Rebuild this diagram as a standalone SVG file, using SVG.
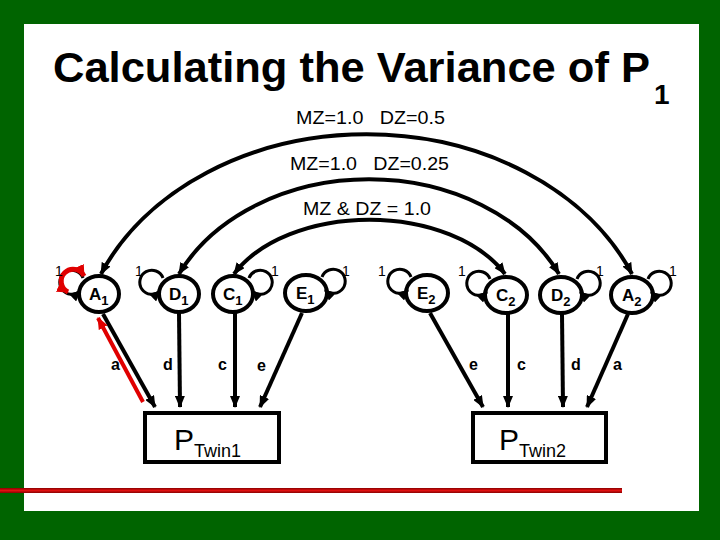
<svg xmlns="http://www.w3.org/2000/svg" width="720" height="540" viewBox="0 0 720 540">
<defs>
<marker id="ah" markerUnits="userSpaceOnUse" markerWidth="12" markerHeight="10" refX="11" refY="5" orient="auto-start-reverse"><path d="M0,0 L12,5 L0,10 z" fill="#000"/></marker>
<marker id="ahs" markerUnits="userSpaceOnUse" markerWidth="11" markerHeight="10" refX="10" refY="5" orient="auto"><path d="M0,0 L11,5 L0,10 z" fill="#000"/></marker>
<marker id="ahr" markerUnits="userSpaceOnUse" markerWidth="12" markerHeight="10" refX="11" refY="5" orient="auto-start-reverse"><path d="M0,0 L12,5 L0,10 z" fill="#e00000"/></marker>
<linearGradient id="rg" x1="0" y1="0" x2="0" y2="1"><stop offset="0" stop-color="#8a0000"/><stop offset="0.5" stop-color="#e01010"/><stop offset="1" stop-color="#8a0000"/></linearGradient>
<style>
.t{font-family:"Liberation Sans",Arial,sans-serif;fill:#000}
.title{font-size:43px;font-weight:bold}
.lbl{font-size:18px}
.one{font-size:14px}
.nl{font-size:17px;font-weight:bold}
.sub{font-size:13px;font-weight:bold}
.pl{font-size:16px;font-weight:bold}
.node{fill:#fff;stroke:#000;stroke-width:4}
.box{fill:#fff;stroke:#000;stroke-width:4}
.arc{fill:none;stroke:#000;stroke-width:4;marker-start:url(#ah);marker-end:url(#ah)}
.ln{fill:none;stroke:#000;stroke-width:4;marker-end:url(#ah)}
.loop{fill:none;stroke:#000;stroke-width:3;marker-end:url(#ahs)}
</style>
</defs>
<rect x="0" y="0" width="720" height="540" fill="#006400"/>
<rect x="24" y="24" width="675" height="487" fill="#fff"/>
<text class="t title" x="53" y="82" textLength="597" lengthAdjust="spacingAndGlyphs">Calculating the Variance of P</text>
<text class="t" x="654" y="104" font-size="28" font-weight="bold">1</text>
<text class="t lbl" x="296" y="124" xml:space="preserve" textLength="149" lengthAdjust="spacingAndGlyphs">MZ=1.0   DZ=0.5</text>
<text class="t lbl" x="290" y="170" xml:space="preserve" textLength="159" lengthAdjust="spacingAndGlyphs">MZ=1.0   DZ=0.25</text>
<text class="t lbl" x="303" y="215" textLength="128" lengthAdjust="spacingAndGlyphs">MZ &amp; DZ = 1.0</text>

<g id="A1"><ellipse class="node" cx="99" cy="294" rx="20" ry="18"/><text class="t nl" x="89" y="300">A<tspan class="sub" dy="5">1</tspan></text></g>
<g id="D1"><ellipse class="node" cx="179" cy="294" rx="20" ry="18"/><text class="t nl" x="169" y="300">D<tspan class="sub" dy="5">1</tspan></text></g>
<g id="C1"><ellipse class="node" cx="233" cy="294" rx="20" ry="18"/><text class="t nl" x="223" y="300">C<tspan class="sub" dy="5">1</tspan></text></g>
<g id="E1"><ellipse class="node" cx="306" cy="293" rx="21" ry="18"/><text class="t nl" x="296" y="299">E<tspan class="sub" dy="5">1</tspan></text></g>
<g id="E2"><ellipse class="node" cx="427" cy="293" rx="21" ry="18"/><text class="t nl" x="417" y="299">E<tspan class="sub" dy="5">2</tspan></text></g>
<g id="C2"><ellipse class="node" cx="506" cy="295" rx="21" ry="18"/><text class="t nl" x="496" y="301">C<tspan class="sub" dy="5">2</tspan></text></g>
<g id="D2"><ellipse class="node" cx="561" cy="295" rx="21" ry="18"/><text class="t nl" x="551" y="301">D<tspan class="sub" dy="5">2</tspan></text></g>
<g id="A2"><ellipse class="node" cx="632" cy="295" rx="21" ry="18"/><text class="t nl" x="622" y="301">A<tspan class="sub" dy="5">2</tspan></text></g>
<g id="PTwin1"><rect class="box" x="145" y="413" width="134" height="49"/><text class="t" x="174" y="450" font-size="30">P<tspan font-size="18" dy="7">Twin1</tspan></text></g>
<g id="PTwin2"><rect class="box" x="473" y="413" width="133" height="49"/><text class="t" x="499" y="450" font-size="30">P<tspan font-size="18" dy="7">Twin2</tspan></text></g>

<g id="connectors">
<path class="arc" d="M101 274 A288 228 0 0 1 632 274"/>
<path class="arc" d="M179 274 A210 165 0 0 1 559 274"/>
<path class="arc" d="M234 274 A150 95 0 0 1 505 274"/>
<path class="ln" d="M103 314 L155 407"/>
<path class="ln" d="M179 313 L180 407"/>
<path class="ln" d="M235 313 L235 407"/>
<path class="ln" d="M302 313 L260 407"/>
<path class="ln" d="M430 313 L483 407"/>
<path class="ln" d="M508 314 L508 407"/>
<path class="ln" d="M562 314 L563 407"/>
<path class="ln" d="M628 314 L587 407"/>
<path fill="none" stroke="#e00000" stroke-width="4" marker-end="url(#ahr)" d="M143 402 L98 318"/>
<path class="loop" d="M83 278 A12 12 0 1 0 80 291"/>
<path class="loop" d="M163 278 A12 12 0 1 0 160 291"/>
<path class="loop" d="M249 278 A12 12 0 1 1 252 291"/>
<path class="loop" d="M322 277 A12 12 0 1 1 325 290"/>
<path class="loop" d="M411 277 A12 12 0 1 0 408 290"/>
<path class="loop" d="M490 279 A12 12 0 1 0 487 292"/>
<path class="loop" d="M577 279 A12 12 0 1 1 580 292"/>
<path class="loop" d="M648 279 A12 12 0 1 1 651 292"/>
<path fill="none" stroke="#e00000" stroke-width="5" marker-start="url(#ahr)" marker-end="url(#ahr)" d="M68 292 A12 12 0 1 1 84 276"/>
<text class="t one" x="55" y="276">1</text>
<text class="t one" x="135" y="276">1</text>
<text class="t one" x="271" y="276">1</text>
<text class="t one" x="342" y="276">1</text>
<text class="t one" x="378" y="276">1</text>
<text class="t one" x="458" y="276">1</text>
<text class="t one" x="596" y="276">1</text>
<text class="t one" x="669" y="276">1</text>
<text class="t pl" x="111" y="370">a</text>
<text class="t pl" x="163" y="370">d</text>
<text class="t pl" x="218" y="370">c</text>
<text class="t pl" x="257" y="371">e</text>
<text class="t pl" x="469" y="370">e</text>
<text class="t pl" x="517" y="370">c</text>
<text class="t pl" x="571" y="370">d</text>
<text class="t pl" x="613" y="370">a</text>
</g>

<rect x="0" y="488" width="622" height="5" fill="url(#rg)"/>
</svg>
